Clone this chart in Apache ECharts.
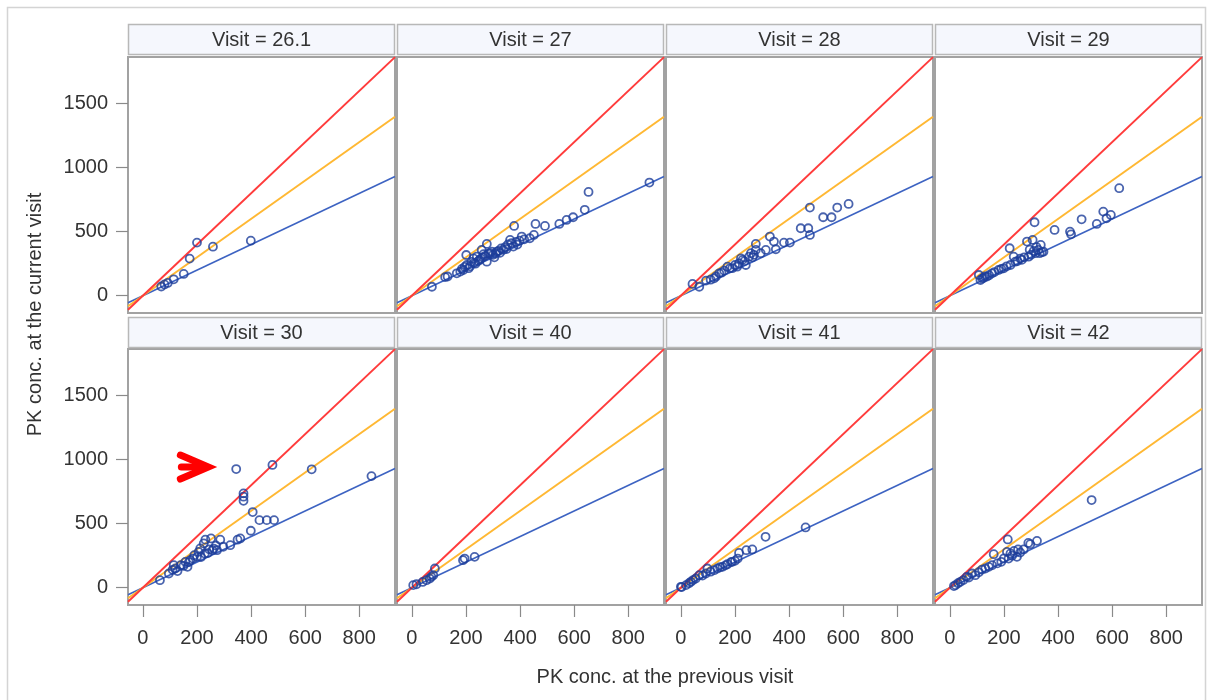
<!DOCTYPE html>
<html>
<head>
<meta charset="utf-8">
<script src="https://cdn.jsdelivr.net/npm/echarts@6/dist/echarts.min.js"></script>
<style>
html,body{margin:0;padding:0;background:#fff;}
#chart{width:1209px;height:700px;}
</style>
</head>
<body>
<div id="chart"></div>
<script>
// ---------------- data ----------------
const visits = ['26.1', '27', '28', '29', '30', '40', '41', '42'];
const xTicks = [0, 200, 400, 600, 800];
const yTicks = [0, 500, 1000, 1500];
const xRange = [-55, 932];
const yRange = [-135, 1865];
const refSlopes = [2, 1.5, 1];          // red, orange, blue reference lines
const xTitle = 'PK conc. at the previous visit';
const yTitle = 'PK conc. at the current visit';

const v26_1 = [[68,72],[80,88],[92,100],[114,128],[151,170],[173,290],[200,415],[259,383],[399,430]];
const v27 = [[74,70],[123,145],[132,150],[166,175],[179,188],[190,200],[203,240],[210,215],[215,230],[220,265],
  [228,292],[235,250],[240,305],[245,270],[201,318],[250,280],[258,358],[262,300],[270,310],[277,266],
  [277,405],[283,330],[289,332],[295,345],[300,320],[305,300],[314,344],[320,350],[326,335],[330,370],
  [338,358],[345,380],[350,365],[355,400],[363,436],[368,410],[375,384],[378,545],[385,420],[390,400],
  [398,430],[406,462],[415,440],[436,449],[451,475],[457,561],[492,545],[545,561],[572,592],[596,613],
  [639,671],[653,811],[878,884],[185,210],[195,225],[230,255],[255,290],[265,325],[310,330]];
const v28 = [[43,92],[68,70],[93,118],[123,136],[142,175],[160,196],[172,227],[181,214],[208,227],[215,253],
  [222,292],[228,280],[240,240],[252,305],[259,332],[270,319],[277,405],[277,358],[295,332],[314,358],
  [329,462],[344,423],[351,363],[381,415],[403,415],[443,527],[471,527],[477,475],[477,689],[526,613],
  [557,613],[578,689],[620,717],[110,125],[130,150],[150,180],[190,215],[200,240],[235,270],[265,300]];
const v29 = [[107,162],[113,123],[125,140],[137,149],[156,175],[180,201],[199,214],[224,240],[242,266],[266,280],
  [291,305],[317,332],[327,358],[332,332],[346,344],[336,397],[306,436],[285,423],[221,371],[313,574],
  [387,514],[444,501],[448,480],[487,597],[543,561],[579,605],[595,631],[567,657],[626,840],
  [120,135],[130,150],[145,160],[165,185],[190,210],[210,230],[236,305],[250,270],[260,290],[275,300],
  [300,320],[310,350],[320,380],[340,340],[295,360]];
const v30 = [[63,59],[96,111],[114,176],[128,130],[140,176],[157,202],[165,163],[185,228],[190,254],[200,241],
  [206,280],[212,307],[225,346],[229,267],[231,375],[252,385],[257,293],[262,306],[274,293],[286,375],
  [297,320],[323,332],[350,375],[360,385],[399,445],[406,591],[431,528],[458,528],[485,528],[372,737],
  [372,711],[372,679],[345,927],[479,959],[624,925],[845,872],
  [110,140],[120,150],[150,170],[170,200],[175,215],[215,240],[240,270],[245,300],[270,330]];
const v40 = [[5,20],[17,27],[40,45],[54,59],[66,72],[72,85],[79,98],[85,150],[189,215],[195,228],[232,241]];
const v41 = [[3,5],[0,7],[19,20],[37,46],[55,72],[68,98],[92,111],[98,150],[123,137],[135,150],[154,163],
  [172,184],[190,202],[210,228],[215,272],[242,293],[264,299],[313,398],[461,471],
  [30,35],[45,60],[80,95],[110,125],[145,160],[165,175],[185,200],[200,210]];
const v42 = [[15,13],[21,20],[39,46],[62,85],[82,111],[94,98],[107,121],[119,142],[131,150],[144,163],
  [156,176],[162,262],[190,202],[211,280],[214,377],[217,228],[224,268],[237,288],[248,241],[252,299],
  [273,299],[290,350],[297,340],[322,366],[524,685],[30,35],[50,60],[70,80],[175,190],[200,230],[230,250],[260,275]];
const panelData = [v26_1, v27, v28, v29, v30, v40, v41, v42];
const arrowTip = [242, 943];   // annotation arrow tip (data units, Visit = 30 panel)

// ---------------- layout / style ----------------
const colLeft = [128, 397, 666, 935];
const rowTop = [57, 349];
const headTop = [24, 317];
const pw = 267, ph = 256, hh = 30;
const lineColors = ['#ff3b3b', '#ffb833', '#3d63c2'];
const lineWidths = [2, 2, 1.6];
const markerColor = '#1d3d9a';
const FONT = '"Liberation Sans", Arial, sans-serif';

const chart = echarts.init(document.getElementById('chart'), null, {renderer: 'canvas'});

const grids = [], xAxes = [], yAxes = [], series = [], graphics = [];

graphics.push({type: 'rect', shape: {x: 7.5, y: 7.5, width: 1198, height: 700},
  style: {fill: 'none', stroke: '#d4d4d4', lineWidth: 1.5}, silent: true, z: 0});

const plain = (val) => String(val);

visits.forEach((v, i) => {
  const r = Math.floor(i / 4), c = i % 4;
  grids.push({left: colLeft[c], top: rowTop[r], width: pw, height: ph, show: true,
    borderColor: '#a2a2a2', borderWidth: 2, backgroundColor: '#fff', containLabel: false});
  const bottom = r === 1, left = c === 0;
  xAxes.push({type: 'value', gridIndex: i, min: xRange[0], max: xRange[1], position: 'bottom',
    axisLine: {show: false, onZero: false}, splitLine: {show: false},
    axisTick: {show: bottom, customValues: xTicks, length: 12, lineStyle: {color: '#8a8a8a', width: 1.2}},
    axisLabel: {show: bottom, customValues: xTicks, formatter: plain, margin: 23, color: '#333', fontSize: 20, fontFamily: FONT}});
  yAxes.push({type: 'value', gridIndex: i, min: yRange[0], max: yRange[1], position: 'left',
    axisLine: {show: false, onZero: false}, splitLine: {show: false},
    axisTick: {show: left, customValues: yTicks, length: 12, lineStyle: {color: '#8a8a8a', width: 1.2}},
    axisLabel: {show: left, customValues: yTicks, formatter: plain, margin: 20, color: '#333', fontSize: 20, fontFamily: FONT}});
  refSlopes.forEach((k, j) => {
    series.push({type: 'line', xAxisIndex: i, yAxisIndex: i, silent: true, showSymbol: false,
      symbol: 'none', clip: true, z: 2 + (2 - j),
      lineStyle: {color: lineColors[j], width: lineWidths[j]},
      data: [[xRange[0], xRange[0] * k], [xRange[1], xRange[1] * k]]});
  });
  series.push({type: 'scatter', xAxisIndex: i, yAxisIndex: i, z: 10, symbol: 'circle', symbolSize: 8,
    itemStyle: {color: 'rgba(0,0,0,0)', borderColor: markerColor, borderWidth: 1.8},
    data: panelData[i]});
  graphics.push({type: 'rect', shape: {x: colLeft[c] + 0.5, y: headTop[r] + 0.5, width: pw - 1, height: hh},
    style: {fill: '#f5f7fd', stroke: '#b8b8b8', lineWidth: 1.5}, silent: true});
  graphics.push({type: 'text', x: colLeft[c] + pw / 2, y: headTop[r] + hh / 2 + 1,
    style: {text: 'Visit = ' + v, font: '20px ' + FONT, fill: '#333', align: 'center', verticalAlign: 'middle'}, silent: true});
});

graphics.push({type: 'text', x: (colLeft[0] + colLeft[3] + pw) / 2, y: 677,
  style: {text: xTitle, font: '20px ' + FONT, fill: '#333', align: 'center', verticalAlign: 'middle'}, silent: true});
graphics.push({type: 'text', x: 35, y: (headTop[0] + rowTop[1] + ph) / 2, rotation: Math.PI / 2,
  style: {text: yTitle, font: '20px ' + FONT, fill: '#333', align: 'center', verticalAlign: 'middle'}, silent: true});

chart.setOption({
  animation: false,
  backgroundColor: '#fff',
  grid: grids, xAxis: xAxes, yAxis: yAxes, series: series, graphic: graphics
});

// red annotation arrow anchored at a data position in the Visit = 30 panel
const tip = chart.convertToPixel({gridIndex: 4}, arrowTip);
chart.setOption({graphic: graphics.concat([
  {type: 'polyline', shape: {points: [[tip[0] - 28, tip[1] - 12], [tip[0], tip[1]], [tip[0] - 28, tip[1] + 12]]},
   style: {stroke: '#ff0000', lineWidth: 7, fill: 'none', lineCap: 'round', lineJoin: 'miter'}, z: 20, silent: true},
  {type: 'line', shape: {x1: tip[0] - 27, y1: tip[1], x2: tip[0] - 8, y2: tip[1]},
   style: {stroke: '#ff0000', lineWidth: 7, lineCap: 'round'}, z: 20, silent: true}
])});
</script>
</body>
</html>
